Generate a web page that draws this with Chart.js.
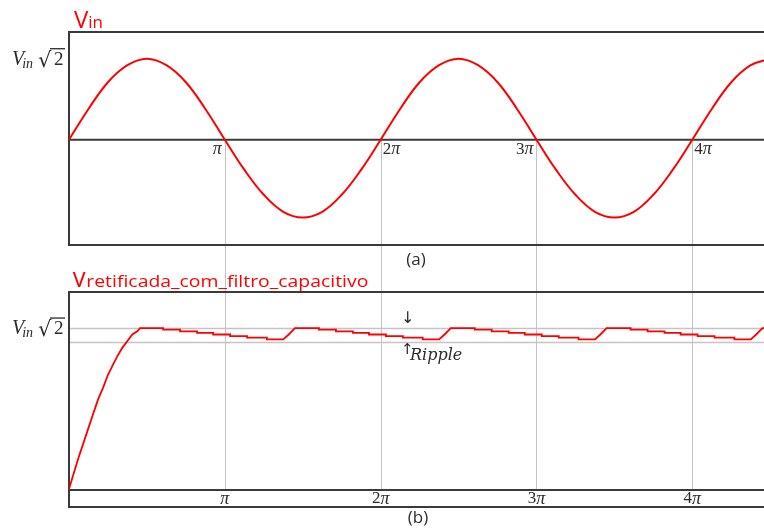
<!DOCTYPE html>
<html lang="pt">
<head>
<meta charset="UTF-8">
<title>Vin e Vretificada com filtro capacitivo</title>
<script src="https://cdn.jsdelivr.net/npm/chart.js"></script>
<style>
    body { margin: 0; background: #fff; }
    #wrap { position: relative; width: 764px; height: 528px; overflow: hidden; }
    canvas { position: absolute; left: 0; }
    #c1 { top: 0; }
    #c2 { top: 272px; }
</style>
</head>
<body>
<div id="wrap">
    <canvas id="c1" width="764" height="272"></canvas>
    <canvas id="c2" width="764" height="256"></canvas>
</div>
<script>
// x values are in units of pi
const tickPositions = [1, 2, 3, 4];
const tickLabels = ['π', '2π', '3π', '4π'];

// (a) input voltage, normalised to Vin*sqrt(2)
const vinX = [0, 0.125, 0.25, 0.375, 0.5, 0.625, 0.75, 0.875, 1,
              1.125, 1.25, 1.375, 1.5, 1.625, 1.75, 1.875, 2,
              2.125, 2.25, 2.375, 2.5, 2.625, 2.75, 2.875, 3,
              3.125, 3.25, 3.375, 3.5, 3.625, 3.75, 3.875, 4,
              4.125, 4.25, 4.375, 4.5];
const vinY = [0, 0.38, 0.71, 0.92, 1, 0.92, 0.71, 0.38, 0,
              -0.37, -0.68, -0.89, -0.96, -0.89, -0.68, -0.37, 0,
              0.38, 0.71, 0.92, 1, 0.92, 0.71, 0.38, 0,
              -0.37, -0.68, -0.89, -0.96, -0.89, -0.68, -0.37, 0,
              0.38, 0.71, 0.92, 1];

// (b) rectified voltage with capacitor filter
const retX = [0, 0.031, 0.063, 0.094, 0.125, 0.156, 0.188, 0.219, 0.25, 0.281, 0.313, 0.344, 0.375, 0.406, 0.438, 0.456,
              0.604, 0.604, 0.713, 0.713, 0.822, 0.822, 0.925, 0.925, 1.034, 1.034, 1.143, 1.143, 1.27, 1.27, 1.375, 1.41, 1.45,
              1.604, 1.604, 1.713, 1.713, 1.822, 1.822, 1.925, 1.925, 2.034, 2.034, 2.143, 2.143, 2.27, 2.27, 2.375, 2.41, 2.45,
              2.604, 2.604, 2.713, 2.713, 2.822, 2.822, 2.925, 2.925, 3.034, 3.034, 3.143, 3.143, 3.27, 3.27, 3.375, 3.41, 3.45,
              3.604, 3.604, 3.713, 3.713, 3.822, 3.822, 3.925, 3.925, 4.034, 4.034, 4.143, 4.143, 4.27, 4.27, 4.375, 4.41, 4.45, 4.5];
const retY = [0, 0.10, 0.20, 0.29, 0.38, 0.47, 0.56, 0.63, 0.71, 0.77, 0.83, 0.88, 0.92, 0.96, 0.98, 1.0,
              1.0, 0.99, 0.99, 0.98, 0.98, 0.97, 0.97, 0.96, 0.96, 0.95, 0.95, 0.94, 0.94, 0.93, 0.93, 0.96, 1.0,
              1.0, 0.99, 0.99, 0.98, 0.98, 0.97, 0.97, 0.96, 0.96, 0.95, 0.95, 0.94, 0.94, 0.93, 0.93, 0.96, 1.0,
              1.0, 0.99, 0.99, 0.98, 0.98, 0.97, 0.97, 0.96, 0.96, 0.95, 0.95, 0.94, 0.94, 0.93, 0.93, 0.96, 1.0,
              1.0, 0.99, 0.99, 0.98, 0.98, 0.97, 0.97, 0.96, 0.96, 0.95, 0.95, 0.94, 0.94, 0.93, 0.93, 0.96, 1.0, 1.0];

const peakLevel = 1.0;
const rippleLevel = 0.915;

const RED = '#ff0000';
const FRAME = '#3a3a3a';
const GRID = '#c4c4c4';
const TEXT = '#2b2b2b';

function toPoints(xs, ys) {
    return xs.map((x, i) => ({ x: x, y: ys[i] }));
}

function hLine(ctx, x1, x2, y, color, w) {
    ctx.save();
    ctx.strokeStyle = color; ctx.lineWidth = w;
    ctx.beginPath(); ctx.moveTo(x1, y); ctx.lineTo(x2, y); ctx.stroke();
    ctx.restore();
}
function vLine(ctx, x, y1, y2, color, w) {
    ctx.save();
    ctx.strokeStyle = color; ctx.lineWidth = w;
    ctx.beginPath(); ctx.moveTo(x, y1); ctx.lineTo(x, y2); ctx.stroke();
    ctx.restore();
}

// big "V" followed by smaller text, red title; rest is stretched to fit width when given
function drawTitle(ctx, x, baseline, rest, restSize, restWidth) {
    ctx.save();
    ctx.fillStyle = RED;
    ctx.textAlign = 'left';
    ctx.textBaseline = 'alphabetic';
    ctx.font = '24px "Open Sans"';
    ctx.fillText('V', x, baseline);
    const w = ctx.measureText('V').width;
    ctx.font = restSize + 'px "Open Sans"';
    if (restWidth) {
        const m = ctx.measureText(rest).width;
        ctx.translate(x + w, baseline);
        ctx.scale(restWidth / m, 1);
        ctx.fillText(rest, 0, 0);
    } else {
        ctx.fillText(rest, x + w, baseline);
    }
    ctx.restore();
}

// V_in sqrt(2) label, vertically centred at yMid
function drawVinSqrt2(ctx, yMid) {
    const base = yMid + 6;
    ctx.save();
    ctx.fillStyle = TEXT;
    ctx.strokeStyle = TEXT;
    ctx.textAlign = 'left';
    ctx.textBaseline = 'alphabetic';
    ctx.font = 'italic 20px "Liberation Serif"';
    ctx.fillText('V', 12, base);
    const wv = ctx.measureText('V').width;
    ctx.font = 'italic 14px "Liberation Serif"';
    ctx.fillText('in', 12 + wv - 2, base + 3);
    ctx.font = '21px "DejaVu Serif"';
    ctx.fillText('√', 38, base + 2);
    ctx.font = '19px "Liberation Serif"';
    ctx.fillText('2', 54, base);
    ctx.lineWidth = 1.3;
    ctx.beginPath(); ctx.moveTo(50, base - 16); ctx.lineTo(65, base - 16); ctx.stroke();
    ctx.restore();
}

// tick label like "2π": digit upright, pi italic
function drawPiLabel(ctx, label, x, y, align) {
    const num = label.replace('π', '');
    ctx.save();
    ctx.fillStyle = TEXT;
    ctx.textBaseline = 'middle';
    ctx.textAlign = 'left';
    ctx.font = '17px "Liberation Serif"';
    const wn = ctx.measureText(num).width;
    ctx.font = 'italic 18px "Liberation Serif"';
    const wp = ctx.measureText('π').width;
    const total = wn + wp;
    let x0 = x;
    if (align === 'right') x0 = x - total;
    if (align === 'center') x0 = x - total / 2;
    ctx.font = '17px "Liberation Serif"';
    ctx.fillText(num, x0, y);
    ctx.font = 'italic 18px "Liberation Serif"';
    ctx.fillText('π', x0 + wn, y);
    ctx.restore();
}

function drawCaption(ctx, text, x, y) {
    ctx.save();
    ctx.fillStyle = TEXT;
    ctx.font = '17px "Open Sans"';
    ctx.textAlign = 'center';
    ctx.textBaseline = 'middle';
    ctx.fillText(text, x, y);
    ctx.restore();
}

const panelA = {
    id: 'panelA',
    beforeDatasetsDraw(chart) {
        const { ctx, chartArea: a, scales: { x, y } } = chart;
        const y0 = y.getPixelForValue(0);
        tickPositions.forEach(t => {
            const px = Math.round(x.getPixelForValue(t)) + 0.5;
            vLine(ctx, px, y0, chart.height, GRID, 1);
        });
        hLine(ctx, a.left, a.right, a.top, FRAME, 2);
        hLine(ctx, a.left, a.right, a.bottom, FRAME, 2);
        hLine(ctx, a.left, a.right, y0, FRAME, 2);
        vLine(ctx, a.left, a.top - 1, a.bottom + 1, FRAME, 2);
    },
    afterDraw(chart) {
        const { ctx, scales: { x, y } } = chart;
        const y0 = y.getPixelForValue(0);
        const sides = ['right', 'left', 'right', 'left'];
        tickPositions.forEach((t, i) => {
            const px = x.getPixelForValue(t);
            drawPiLabel(ctx, tickLabels[i], sides[i] === 'right' ? px - 3 : px + 2, y0 + 10, sides[i]);
        });
        drawTitle(ctx, 74, 28, 'in', 17);
        drawVinSqrt2(ctx, y.getPixelForValue(1));
        drawCaption(ctx, '(a)', 416, 260);
    }
};

const panelB = {
    id: 'panelB',
    beforeDatasetsDraw(chart) {
        const { ctx, chartArea: a, scales: { x, y } } = chart;
        tickPositions.forEach(t => {
            const px = Math.round(x.getPixelForValue(t)) + 0.5;
            vLine(ctx, px, 0, a.bottom, GRID, 1);
        });
        hLine(ctx, a.left, a.right, Math.round(y.getPixelForValue(peakLevel)) + 0.5, GRID, 1.5);
        hLine(ctx, a.left, a.right, Math.round(y.getPixelForValue(rippleLevel)) + 0.5, GRID, 1.5);
        hLine(ctx, a.left, a.right, a.top, FRAME, 2);
        hLine(ctx, a.left, a.right, a.bottom, FRAME, 2);
        hLine(ctx, a.left, a.right, a.bottom + 17, FRAME, 2);
        vLine(ctx, a.left, a.top - 1, a.bottom + 18, FRAME, 2);
    },
    afterDraw(chart) {
        const { ctx, chartArea: a, scales: { x, y } } = chart;
        tickPositions.forEach((t, i) => {
            drawPiLabel(ctx, tickLabels[i], x.getPixelForValue(t), a.bottom + 9, 'center');
        });
        drawTitle(ctx, 72, 15, 'retificada_com_filtro_capacitivo', 17, 282);
        drawVinSqrt2(ctx, y.getPixelForValue(peakLevel));
        // ripple annotation
        ctx.save();
        ctx.fillStyle = TEXT;
        ctx.textBaseline = 'middle';
        ctx.textAlign = 'left';
        ctx.font = '16px "DejaVu Sans"';
        ctx.fillText('↓', 401, y.getPixelForValue(peakLevel) - 9);
        ctx.font = '15px "DejaVu Sans"';
        ctx.fillText('↑', 401, y.getPixelForValue(rippleLevel) + 8);
        ctx.font = 'italic 16px "DejaVu Serif"';
        ctx.fillText('Ripple', 410, y.getPixelForValue(rippleLevel) + 14);
        ctx.restore();
        drawCaption(ctx, '(b)', 418, 246);
    }
};

new Chart(document.getElementById('c1'), {
    type: 'line',
    data: {
        datasets: [{
            data: toPoints(vinX, vinY),
            borderColor: RED, borderWidth: 2, pointRadius: 0, tension: 0.4, fill: false
        }]
    },
    options: {
        responsive: false,
        animation: false,
        layout: { padding: { left: 69, top: 32, right: 0, bottom: 272 - 245 } },
        plugins: { legend: { display: false }, tooltip: { enabled: false } },
        scales: {
            x: { type: 'linear', min: 0, max: 4.46, display: false },
            y: { type: 'linear', min: -1.3, max: 1.33, display: false }
        }
    },
    plugins: [panelA]
});

new Chart(document.getElementById('c2'), {
    type: 'line',
    data: {
        datasets: [{
            data: toPoints(retX, retY),
            borderColor: RED, borderWidth: 1.8, pointRadius: 0, tension: 0, fill: false
        }]
    },
    options: {
        responsive: false,
        animation: false,
        layout: { padding: { left: 69, top: 292 - 272, right: 0, bottom: 528 - 490 } },
        plugins: { legend: { display: false }, tooltip: { enabled: false } },
        scales: {
            x: { type: 'linear', min: 0, max: 4.46, display: false },
            y: { type: 'linear', min: -0.006, max: 1.224, display: false }
        }
    },
    plugins: [panelB]
});
</script>
</body>
</html>
